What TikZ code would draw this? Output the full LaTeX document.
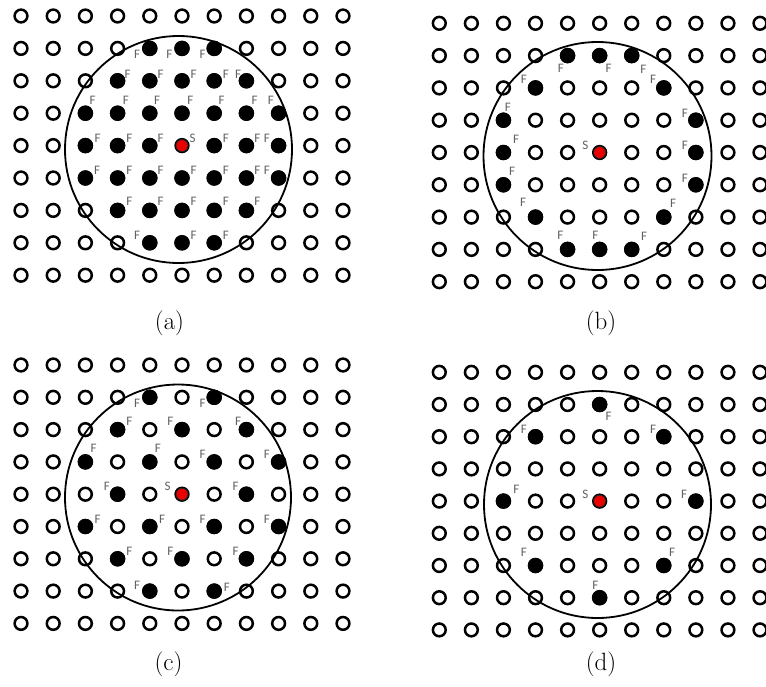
\documentclass[tikz,border=0pt]{standalone}
\usepackage{fontspec}
\newfontfamily\lblfont{Carlito}
\newcommand\mkgrid[5]{%
  \foreach \ci in {0,...,10}{%
    \foreach \ri in {0,...,8}{%
      \node[hollow] (#1\ci-\ri) at ({#2+\ci*#4},{#3+\ri*#5}) {};
    }%
  }%
}
\newcommand\mkfilled[2]{%
  \foreach \ci/\ri in {#2}{\node[blackdot] (#1f\ci-\ri) at (#1\ci-\ri) {};}%
}
\newcommand\mklabels[2]{%
  \foreach \ci/\ri/\dx/\dy in {#2}{\node[flab] (#1F\ci-\ri) at ([shift={(\dx,\dy)}]#1\ci-\ri) {F};}%
}
\begin{document}
\begin{tikzpicture}[x=1pt,y=-1pt,
  hollow/.style={circle,draw=black,line width=2.5pt,fill=white,minimum size=12.8pt,inner sep=0pt},
  blackdot/.style={circle,fill=black,minimum size=15.5pt,inner sep=0pt},
  srcdot/.style={circle,fill=red!92!black,draw=black!85,line width=0.8pt,minimum size=12pt,inner sep=0pt},
  flab/.style={font=\lblfont\fontsize{13}{13}\selectfont,text=black!62,inner sep=0pt},
  bigring/.style={circle,draw=black,line width=1.8pt,inner sep=0pt},
  captext/.style={font=\fontsize{25}{30}\selectfont,inner sep=0pt}]
\useasboundingbox (0,0) rectangle (766,686);

% ---------------- panel (a)
\mkgrid{a}{21}{16}{32.2}{32.4}
\node[bigring,minimum size=227pt] (aring) at (178.5,149.5) {};
\mkfilled{a}{4/1,5/1,6/1,3/2,4/2,5/2,6/2,7/2,2/3,3/3,4/3,5/3,6/3,7/3,8/3,2/4,3/4,4/4,6/4,7/4,8/4,2/5,3/5,4/5,5/5,6/5,7/5,8/5,3/6,4/6,5/6,6/6,7/6,4/7,5/7,6/7}
\node[srcdot] (asrc) at (a5-4) {};
\mklabels{a}{4/1/-12.7/5.7,5/1/-12.7/5.7,6/1/-11.7/5.7,
3/2/10/-6,4/2/10.7/-6,5/2/11.7/-6,6/2/11.7/-6,7/2/-8.3/-6,
2/3/7.3/-13.3,3/3/8.3/-13.3,4/3/7.3/-13.3,5/3/8.3/-13.3,6/3/7.3/-13.3,7/3/8.3/-13.3,8/3/-7.7/-13.3,
2/4/12.3/-7.7,3/4/11.7/-7.7,4/4/10.7/-7.7,6/4/11.7/-7.7,7/4/11/-7.7,8/4/-11.7/-7.7,
2/5/11.7/-7.7,3/5/11.7/-7.7,4/5/10.7/-7.7,5/5/11.7/-7.7,6/5/11.7/-7.7,7/5/11/-7.7,8/5/-11.7/-7.7,
3/6/11.7/-9,4/6/10.7/-9,5/6/11.7/-9,6/6/11.7/-9,7/6/11/-9,
4/7/-12.7/-7.3,5/7/11.7/-7.3,6/7/11.7/-7.3}
\node[flab] (aS) at ([shift={(10.7,-7.7)}]a5-4) {S};
\node[captext,anchor=base] (capa) at (169.5,329) {(a)};

% ---------------- panel (b)
\mkgrid{b}{439.3}{23.3}{32.07}{32.3}
\node[bigring,minimum size=228pt] (bring) at (597.5,156) {};
\mkfilled{b}{4/1,5/1,6/1,3/2,7/2,2/3,8/3,2/4,8/4,2/5,8/5,3/6,7/6,4/7,5/7,6/7}
\node[srcdot] (bsrc) at (b5-4) {};
\mklabels{b}{4/1/-6.7/12.3,5/1/9/12.3,6/1/11.7/13.3,3/2/-11.7/-8.3,7/2/-10.7/-8.3,
2/3/4.3/-13.3,8/3/-11/-7.3,2/4/12.7/-12.7,8/4/-11/-7,2/5/8.7/-13.3,8/5/-11/-6.7,
3/6/-12.3/-14.7,7/6/9.3/-14,4/7/-7.3/-14.3,5/7/-4.3/-14.3,6/7/12.3/-12.7}
\node[flab] (bS) at ([shift={(-14.3,-7)}]b5-4) {S};
\node[captext,anchor=base] (capb) at (601,329) {(b)};

% ---------------- panel (c)
\mkgrid{c}{21}{365}{32.2}{32.3}
\node[bigring,minimum size=226pt] (cring) at (178,497.5) {};
\mkfilled{c}{4/1,6/1,3/2,5/2,7/2,2/3,4/3,6/3,8/3,3/4,7/4,2/5,4/5,6/5,8/5,3/6,5/6,7/6,4/7,6/7}
\node[srcdot] (csrc) at (c5-4) {};
\mklabels{c}{4/1/-12.7/5.7,6/1/-11.7/5.7,3/2/11.7/-8.3,5/2/-11.7/-8.3,7/2/-8.3/-8.3,
2/3/8.3/-14,4/3/8/-14,6/3/-11.7/-7.3,8/3/-11.7/-7.3,3/4/-10.7/-7.7,7/4/-10.7/-7.7,
2/5/12.3/-7.3,4/5/12.3/-6.7,6/5/-11.7/-6.7,8/5/-11.7/-6.7,3/6/11.7/-7.3,5/6/-11.7/-7.3,
7/6/-10.7/-7.3,4/7/-12.7/-5.7,6/7/12.7/-4}
\node[flab] (cS) at ([shift={(-14.3,-7.7)}]c5-4) {S};
\node[captext,anchor=base] (capc) at (168.5,670) {(c)};

% ---------------- panel (d)
\mkgrid{d}{439.3}{372.3}{32.07}{32.2}
\node[bigring,minimum size=227pt] (dring) at (597.5,504.5) {};
\mkfilled{d}{5/1,3/2,7/2,2/4,8/4,3/6,7/6,5/7}
\node[srcdot] (dsrc) at (d5-4) {};
\mklabels{d}{5/1/9/12.3,3/2/-11.7/-7.3,7/2/-10.7/-7.3,2/4/13/-11.7,8/4/-11.7/-6.7,
3/6/-11.7/-12.7,7/6/8.3/-12.7,5/7/-4.3/-12.3}
\node[flab] (dS) at ([shift={(-14.3,-6.7)}]d5-4) {S};
\node[captext,anchor=base] (capd) at (601,670) {(d)};
\end{tikzpicture}
\end{document}
